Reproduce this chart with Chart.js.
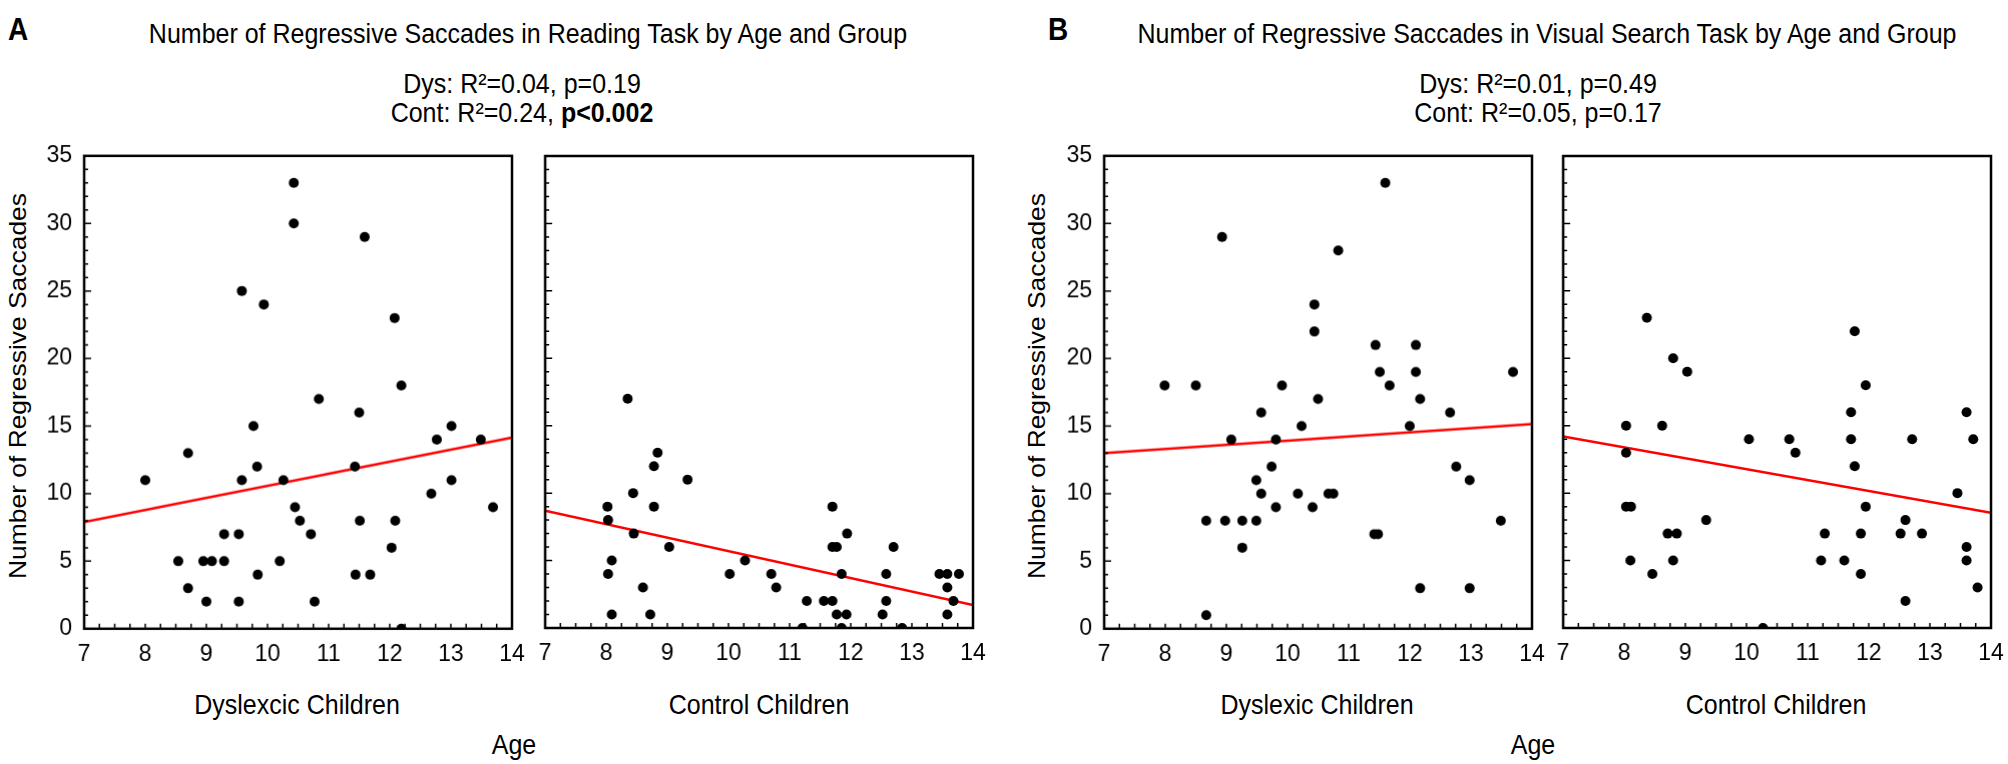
<!DOCTYPE html>
<html>
<head>
<meta charset="utf-8">
<script src="https://cdn.jsdelivr.net/npm/chart.js@4.4.1/dist/chart.umd.min.js"></script>
<style>
    body { margin: 0; background: #fff; width: 2008px; height: 764px; overflow: hidden; position: relative;
           font-family: "Liberation Sans", Arial, sans-serif; color: #000; }
    .txt { position: absolute; white-space: nowrap; font-size: 25px; line-height: 1; transform: translate(-50%, -50%) scaleY(1.1); }
    .lbl { position: absolute; white-space: nowrap; font-size: 28px; font-weight: bold; line-height: 1; transform: translate(-50%, -50%) scaleY(1.1); }
    .ytitle { position: absolute; white-space: nowrap; font-size: 24px; line-height: 1; transform: translate(-50%, -50%) rotate(-90deg) scaleX(1.1); }
    .panel { position: absolute; }
</style>
</head>
<body>

<div class="lbl" style="left:18px; top:30px;">A</div>
<div class="txt" style="left:528px; top:34px;">Number of Regressive Saccades in Reading Task by Age and Group</div>
<div class="txt" style="left:522px; top:84px;">Dys: R²=0.04, p=0.19</div>
<div class="txt" style="left:522px; top:113px;">Cont: R²=0.24, <b>p&lt;0.002</b></div>
<div class="ytitle" style="left:18px; top:386px;">Number of Regressive Saccades</div>
<div class="txt" style="left:297px; top:705px;">Dyslexcic Children</div>
<div class="txt" style="left:759px; top:705px;">Control Children</div>
<div class="txt" style="left:514px; top:745px;">Age</div>

<div class="lbl" style="left:1058px; top:30px;">B</div>
<div class="txt" style="left:1547px; top:34px;">Number of Regressive Saccades in Visual Search Task by Age and Group</div>
<div class="txt" style="left:1538px; top:84px;">Dys: R²=0.01, p=0.49</div>
<div class="txt" style="left:1538px; top:113px;">Cont: R²=0.05, p=0.17</div>
<div class="ytitle" style="left:1037px; top:386px;">Number of Regressive Saccades</div>
<div class="txt" style="left:1317px; top:705px;">Dyslexic Children</div>
<div class="txt" style="left:1776px; top:705px;">Control Children</div>
<div class="txt" style="left:1533px; top:745px;">Age</div>

<div class="panel" id="p-read-dys"><canvas id="c-read-dys"></canvas></div>
<div class="panel" id="p-read-cont"><canvas id="c-read-cont"></canvas></div>
<div class="panel" id="p-search-dys"><canvas id="c-search-dys"></canvas></div>
<div class="panel" id="p-search-cont"><canvas id="c-search-cont"></canvas></div>

<script>
// tick labels
const ageTicks = [7, 8, 9, 10, 11, 12, 13, 14];
const countTicks = [0, 5, 10, 15, 20, 25, 30, 35];

// A - reading task, dyslexic children
const readDysAge = [8.0, 8.54, 8.70, 8.70, 8.95, 9.0, 9.09, 9.29, 9.29, 9.53, 9.53, 9.58, 9.58, 9.77, 9.83, 9.84, 9.94,
    10.2, 10.26, 10.43, 10.43, 10.45, 10.53, 10.71, 10.77, 10.84, 11.43, 11.44, 11.5, 11.51, 11.59, 11.68,
    12.03, 12.08, 12.09, 12.19, 12.19, 12.68, 12.77, 13.01, 13.01, 13.49, 13.69];
const readDysCount = [11, 5, 3, 13, 5, 2, 5, 5, 7, 7, 2, 25, 11, 15, 12, 4, 24,
    5, 11, 33, 30, 9, 8, 7, 2, 17, 12, 4, 16, 8, 29, 4,
    6, 23, 8, 18, 0, 10, 14, 15, 11, 14, 9];

// A - reading task, control children
const readContAge = [8.02, 8.03, 8.03, 8.09, 8.09, 8.35, 8.44, 8.45, 8.6, 8.72, 8.78, 8.78, 8.84, 9.03, 9.33,
    10.02, 10.27, 10.70, 10.78, 11.21, 11.28, 11.56, 11.70, 11.70, 11.70, 11.77, 11.77, 11.85, 11.85, 11.93, 11.94,
    12.52, 12.58, 12.58, 12.70, 12.84, 13.45, 13.58, 13.77, 13.58, 13.58, 13.68];
const readContCount = [9, 8, 4, 5, 1, 17, 10, 7, 3, 1, 12, 9, 13, 6, 11,
    4, 5, 4, 3, 0, 2, 2, 2, 9, 6, 6, 1, 4, 0, 1, 7,
    1, 4, 2, 6, 0, 4, 4, 4, 3, 1, 2];

// B - visual search task, dyslexic children
const searchDysAge = [7.99, 8.50, 8.67, 8.67, 8.93, 8.98, 9.08, 9.26, 9.26, 9.49, 9.49, 9.57, 9.57, 9.74, 9.81, 9.81, 9.91,
    10.17, 10.23, 10.41, 10.44, 10.44, 10.50, 10.67, 10.75, 10.83, 11.42, 11.48, 11.44, 11.51, 11.6, 11.67,
    12.0, 12.1, 12.1, 12.17, 12.17, 12.66, 12.76, 12.98, 12.98, 13.49, 13.69];
const searchDysCount = [18, 18, 8, 1, 29, 8, 14, 8, 6, 8, 11, 16, 10, 12, 14, 9, 18,
    10, 15, 9, 24, 22, 17, 10, 10, 28, 7, 7, 21, 19, 33, 18,
    15, 21, 19, 17, 3, 16, 12, 11, 3, 8, 19];

// B - visual search task, control children
const searchContAge = [8.03, 8.03, 8.03, 8.11, 8.10, 8.37, 8.46, 8.62, 8.71, 8.80, 8.80, 8.86, 9.03, 9.34,
    10.04, 10.27, 10.70, 10.80, 11.22, 11.28, 11.60, 11.71, 11.71, 11.77, 11.77, 11.87, 11.87, 11.95, 11.95,
    12.52, 12.60, 12.60, 12.71, 12.87, 13.45, 13.60, 13.60, 13.60, 13.71, 13.78];
const searchContCount = [15, 13, 9, 9, 5, 23, 4, 15, 7, 20, 5, 7, 19, 8,
    14, 0, 14, 13, 5, 7, 5, 16, 14, 22, 12, 7, 4, 18, 9,
    7, 8, 2, 14, 7, 10, 16, 6, 5, 14, 3];

// regression lines, value at age 7 and at age 14
const fitAges = [7, 14];
const readDysFit = [7.9, 14.15];
const readContFit = [8.7, 1.7];
const searchDysFit = [13.0, 15.15];
const searchContFit = [14.2, 8.55];

// layout (pixels of the plot box inside the page)
const PLOT_TOP = 156, PLOT_W = 427, PLOT_H = 472;

// frame + inward tick marks like the original
const frameTicks = {
    id: 'frameTicks',
    afterDraw(chart) {
        const { ctx, chartArea: a, scales: { x, y } } = chart;
        const xMin = ageTicks[0], xMax = ageTicks[ageTicks.length - 1];
        const yMin = countTicks[0], yMax = countTicks[countTicks.length - 1];
        ctx.save();
        ctx.strokeStyle = '#000';
        ctx.lineWidth = 1.5;
        ctx.beginPath();
        for (let v = xMin; v <= xMax; v += 0.25) {
            const px = x.getPixelForValue(v);
            ctx.moveTo(px, a.bottom);
            ctx.lineTo(px, a.bottom - 5);
        }
        for (let v = yMin; v <= yMax; v++) {
            const py = y.getPixelForValue(v);
            ctx.moveTo(a.left, py);
            ctx.lineTo(a.left + (v % 5 === 0 ? 7 : 4), py);
        }
        ctx.stroke();
        ctx.lineWidth = 2.5;
        ctx.strokeRect(a.left, a.top, a.right - a.left, a.bottom - a.top);
        ctx.restore();
    }
};

function makePanel(boxId, canvasId, plotLeft, ages, counts, fit, showYLabels) {
    const box = document.getElementById(boxId);
    const canvas = document.getElementById(canvasId);
    canvas.width = 520;
    canvas.height = 540;

    const points = ages.map((a, i) => ({ x: a, y: counts[i] }));
    const line = fitAges.map((a, i) => ({ x: a, y: fit[i] }));

    const chart = new Chart(canvas.getContext('2d'), {
        type: 'scatter',
        data: {
            datasets: [{
                data: points,
                pointRadius: 5,
                pointBorderWidth: 0,
                pointBackgroundColor: '#000'
            }, {
                data: line,
                showLine: true,
                borderColor: 'rgb(255, 0, 0)',
                borderWidth: 2.5,
                pointRadius: 0
            }]
        },
        options: {
            responsive: false,
            maintainAspectRatio: false,
            animation: false,
            events: [],
            layout: { padding: { top: 14, right: 20, left: 0, bottom: 0 } },
            plugins: { legend: { display: false }, tooltip: { enabled: false } },
            scales: {
                x: {
                    type: 'linear',
                    min: ageTicks[0],
                    max: ageTicks[ageTicks.length - 1],
                    afterFit: s => { s.height = 50; },
                    grid: { display: false, drawTicks: false },
                    border: { display: false },
                    ticks: {
                        stepSize: 1, autoSkip: false, maxRotation: 0, padding: 12,
                        color: '#000', font: { family: 'Liberation Sans', size: 23 }
                    }
                },
                y: {
                    min: countTicks[0],
                    max: countTicks[countTicks.length - 1],
                    afterFit: s => { s.width = 70; },
                    grid: { display: false, drawTicks: false },
                    border: { display: false },
                    ticks: {
                        display: showYLabels,
                        stepSize: 5, autoSkip: false, padding: 12,
                        color: '#000', font: { family: 'Liberation Sans', size: 23 }
                    }
                }
            }
        },
        plugins: [frameTicks]
    });

    // make the plot box exactly PLOT_W x PLOT_H, then place it on the page
    for (let k = 0; k < 3; k++) {
        const a = chart.chartArea;
        const w = chart.width + (PLOT_W - (a.right - a.left));
        const h = chart.height + (PLOT_H - (a.bottom - a.top));
        chart.resize(w, h);
    }
    const a = chart.chartArea;
    box.style.left = (plotLeft - a.left) + 'px';
    box.style.top = (PLOT_TOP - a.top) + 'px';
}

makePanel('p-read-dys', 'c-read-dys', 84, readDysAge, readDysCount, readDysFit, true);
makePanel('p-read-cont', 'c-read-cont', 545, readContAge, readContCount, readContFit, false);
makePanel('p-search-dys', 'c-search-dys', 1104, searchDysAge, searchDysCount, searchDysFit, true);
makePanel('p-search-cont', 'c-search-cont', 1563, searchContAge, searchContCount, searchContFit, false);
</script>
</body>
</html>
